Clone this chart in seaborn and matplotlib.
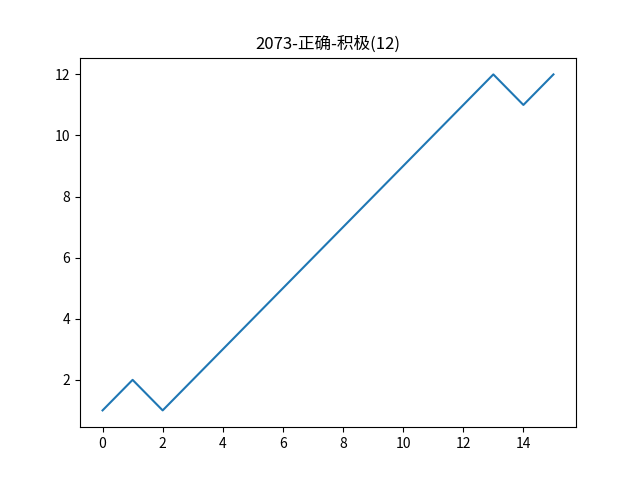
import matplotlib
matplotlib.use('Agg')
import matplotlib.pyplot as plt
import seaborn as sns

x = list(range(16))
y = [1, 2, 1, 2, 3, 4, 5, 6, 7, 8, 9, 10, 11, 12, 11, 12]

plt.rcParams['font.family'] = ['Noto Sans CJK SC', 'DejaVu Sans']

fig, ax = plt.subplots(figsize=(6.4, 4.8), dpi=100)
sns.lineplot(x=x, y=y, ax=ax)
ax.set_title('2073-正确-积极(12)')
fig.savefig('out.png')
